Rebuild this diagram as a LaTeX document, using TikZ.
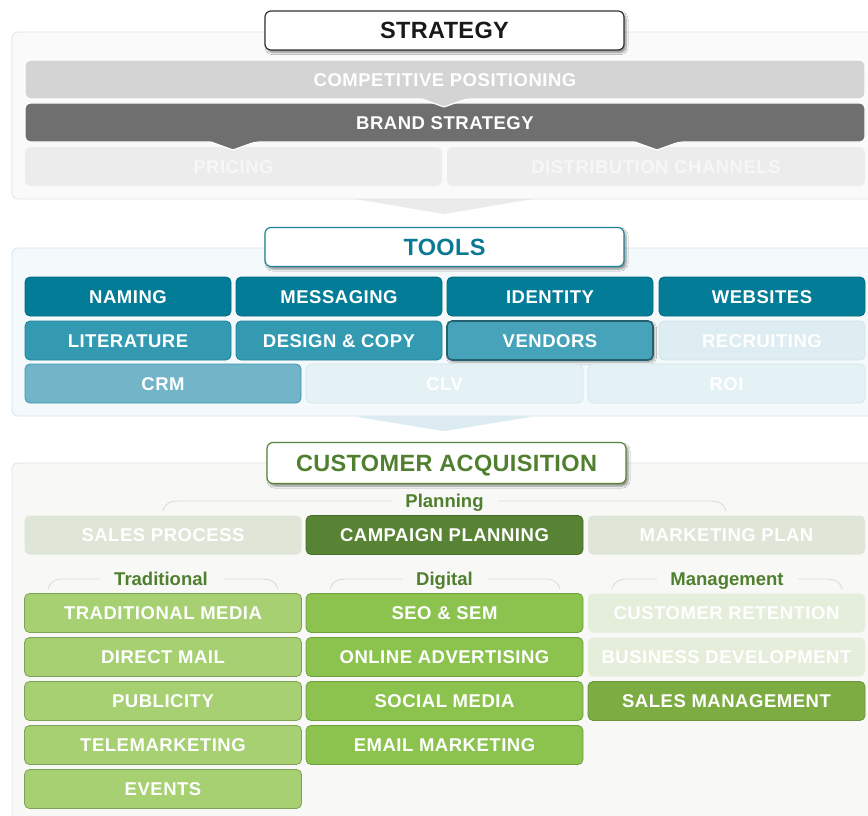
\documentclass[tikz,border=0pt]{standalone}
\usepackage{fontspec}
\setmainfont{Liberation Sans}
\newfontfamily\boxfam{Liberation Sans}[LetterSpace=2.8]
\newfontfamily\titlefam{Liberation Sans}[LetterSpace=1.5]
\usetikzlibrary{shadows.blur}
\definecolor{spanelfill}{HTML}{FAFAFA}
\definecolor{spanelline}{HTML}{E3E3E3}
\definecolor{compfill}{HTML}{D3D4D3}
\definecolor{brandfill}{HTML}{6E6F6E}
\definecolor{pricefill}{HTML}{ECECEC}
\definecolor{schev}{HTML}{EBEBEB}
\definecolor{tpanelfill}{HTML}{F4F9FB}
\definecolor{tpanelline}{HTML}{D3E7EE}
\definecolor{tdark}{HTML}{037C97}
\definecolor{tdarkline}{HTML}{026A82}
\definecolor{tmid}{HTML}{339AB2}
\definecolor{tmidline}{HTML}{1F8299}
\definecolor{tvend}{HTML}{46A3BA}
\definecolor{tvendline}{HTML}{24606F}
\definecolor{tlight}{HTML}{72B5C8}
\definecolor{tlightline}{HTML}{3C94AC}
\definecolor{tfade}{HTML}{DDEDF2}
\definecolor{tfadeline}{HTML}{D2E6EC}
\definecolor{tchev}{HTML}{DCECF2}
\definecolor{ttext}{HTML}{0A7A94}
\definecolor{cpanelfill}{HTML}{F8F8F6}
\definecolor{cpanelline}{HTML}{E3E6DF}
\definecolor{gfadeP}{HTML}{DFE6D8}
\definecolor{gdark}{HTML}{588335}
\definecolor{gdarkline}{HTML}{466E28}
\definecolor{gtrad}{HTML}{A6D071}
\definecolor{gtradline}{HTML}{7FA356}
\definecolor{gdig}{HTML}{8CC34F}
\definecolor{gdigline}{HTML}{6F9F3C}
\definecolor{gfadeM}{HTML}{E5EEDB}
\definecolor{gsales}{HTML}{7DAC43}
\definecolor{gsalesline}{HTML}{6A953A}
\definecolor{gtext}{HTML}{4F7F2F}
\definecolor{brk}{HTML}{DCDCDC}
\begin{document}
\begin{tikzpicture}[x=1pt,y=-1pt,
  boxfont/.style={font=\boxfam\bfseries\fontsize{18.5}{20}\selectfont, text height=13.3pt, text depth=0pt},
  box/.style={boxfont, rectangle, rounded corners=5pt, inner sep=0pt, text=white, minimum height=39pt, line width=0.8pt},
  titlebox/.style={rectangle, rounded corners=6pt, fill=white, line width=1.2pt, inner sep=0pt,
     font=\titlefam\bfseries\fontsize{23.5}{25}\selectfont, text height=16.8pt, text depth=0pt,
     minimum width=359pt, minimum height=39pt,
     blur shadow={shadow xshift=2pt, shadow yshift=-2.5pt, shadow blur steps=6, shadow opacity=45}},
  panel/.style={rounded corners=6pt, line width=0.8pt},
  seclabel/.style={font=\bfseries\fontsize{18.5}{20}\selectfont, text=gtext, anchor=base, inner sep=0pt},
  bracket/.style={draw=brk, line width=0.9pt},
  w2/.style={minimum width=206pt},
  w3/.style={minimum width=277pt}
]
\useasboundingbox (0,0) rectangle (868,816);
\clip (0,0) rectangle (868,816);
\fill[white] (0,0) rectangle (868,816);

% ---------- STRATEGY ----------
\fill[schev] (355,199) -- (533,199) -- (444,214) -- cycle;
\draw[panel, fill=spanelfill, draw=spanelline] (12,32) rectangle (890,199);
\node[box, fill=pricefill, text=white!97!black, minimum width=417pt] (pricing) at (233.5,166.5) {PRICING};
\node[box, fill=pricefill, text=white!97!black, minimum width=418pt] (distrib) at (656,166.5) {DISTRIBUTION CHANNELS};
\filldraw[fill=brandfill, draw=white, line width=1.2pt, rounded corners=5pt]
  (25,103) -- (865,103) -- (865,142) -- (679,142) [rounded corners=1pt] -- (657,150) -- (635,142)
  [rounded corners=5pt] -- (255,142) [rounded corners=1pt] -- (233,150) -- (211,142) [rounded corners=5pt] -- (25,142) -- cycle;
\node[boxfont, text=white, inner sep=0pt] (brand) at (445,123) {BRAND STRATEGY};
\filldraw[fill=compfill, draw=white, line width=1.2pt, rounded corners=5pt]
  (25,60) -- (865,60) -- (865,99) -- (466,99) [rounded corners=1pt] -- (444,107) -- (422,99) [rounded corners=5pt] -- (25,99) -- cycle;
\node[boxfont, text=white, inner sep=0pt] (comp) at (445,80) {COMPETITIVE POSITIONING};
\node[titlebox, draw=black!80, text=black!90] (strategy) at (444.5,30.5) {STRATEGY};

% ---------- TOOLS ----------
\fill[tchev] (357,416) -- (531,416) -- (444,431) -- cycle;
\draw[panel, fill=tpanelfill, draw=tpanelline] (12,248) rectangle (890,416);
\fill[tchev] (357,417) -- (531,417) -- (444,431) -- cycle;
\node[box, w2, fill=tdark, draw=tdarkline] (naming) at (128,296.5) {NAMING};
\node[box, w2, fill=tdark, draw=tdarkline] (messaging) at (339,296.5) {MESSAGING};
\node[box, w2, fill=tdark, draw=tdarkline] (identity) at (550,296.5) {IDENTITY};
\node[box, w2, fill=tdark, draw=tdarkline] (websites) at (762,296.5) {WEBSITES};
\node[box, w2, fill=tmid, draw=tmidline] (literature) at (128,340.5) {LITERATURE};
\node[box, w2, fill=tmid, draw=tmidline] (design) at (339,340.5) {DESIGN \& COPY};
\node[box, w2, fill=tvend, draw=tvendline, line width=1.6pt,
  blur shadow={shadow xshift=1.5pt, shadow yshift=-2pt, shadow blur steps=5, shadow opacity=40}] (vendors) at (550,340.5) {VENDORS};
\node[box, w2, fill=tfade, draw=tfadeline] (recruiting) at (762,340.5) {RECRUITING};
\node[box, minimum width=276pt, fill=tlight, draw=tlightline] (crm) at (163,383.5) {CRM};
\node[box, w3, fill=tfade!80!white, draw=tfadeline] (clv) at (444.5,383.5) {CLV};
\node[box, w3, fill=tfade!80!white, draw=tfadeline] (roi) at (726.5,383.5) {ROI};
\node[titlebox, draw=tmidline, text=ttext] (tools) at (444.5,247) {TOOLS};

% ---------- CUSTOMER ACQUISITION ----------
\draw[panel, fill=cpanelfill, draw=cpanelline] (12,463) rectangle (890,840);
\node[titlebox, draw=gdark, text=gtext, minimum height=41pt] (ca) at (446.5,463) {CUSTOMER ACQUISITION};

\node[seclabel] (planning) at (444.5,507) {Planning};
\draw[bracket] (163,511) .. controls (165,503) and (170,501) .. (180,501) -- (392,501);
\draw[bracket] (498,501) -- (709,501) .. controls (719,501) and (724,503) .. (726,511);
\node[box, w3, fill=gfadeP] (salesproc) at (163,535) {SALES PROCESS};
\node[box, w3, fill=gdark, draw=gdarkline] (campaign) at (444.5,535) {CAMPAIGN PLANNING};
\node[box, w3, fill=gfadeP] (mktplan) at (726.5,535) {MARKETING PLAN};

\node[seclabel] (traditional) at (161,585) {Traditional};
\draw[bracket] (48,589) .. controls (50,582) and (55,579) .. (63,579) -- (100,579);
\draw[bracket] (223,579) -- (263,579) .. controls (271,579) and (276,582) .. (278,589);
\node[seclabel] (digital) at (444.5,585) {Digital};
\draw[bracket] (330,589) .. controls (332,582) and (337,579) .. (345,579) -- (402,579);
\draw[bracket] (488,579) -- (545,579) .. controls (553,579) and (558,582) .. (560,589);
\node[seclabel] (management) at (727,585) {Management};
\draw[bracket] (612,589) .. controls (614,582) and (619,579) .. (627,579) -- (657,579);
\draw[bracket] (798,579) -- (827,579) .. controls (835,579) and (840,582) .. (842,589);

\node[box, w3, fill=gtrad, draw=gtradline] (tradmedia) at (163,613) {TRADITIONAL MEDIA};
\node[box, w3, fill=gtrad, draw=gtradline] (directmail) at (163,657) {DIRECT MAIL};
\node[box, w3, fill=gtrad, draw=gtradline] (publicity) at (163,701) {PUBLICITY};
\node[box, w3, fill=gtrad, draw=gtradline] (telemkt) at (163,745) {TELEMARKETING};
\node[box, w3, fill=gtrad, draw=gtradline] (events) at (163,789) {EVENTS};

\node[box, w3, fill=gdig, draw=gdigline] (seo) at (444.5,613) {SEO \& SEM};
\node[box, w3, fill=gdig, draw=gdigline] (onlineadv) at (444.5,657) {ONLINE ADVERTISING};
\node[box, w3, fill=gdig, draw=gdigline] (social) at (444.5,701) {SOCIAL MEDIA};
\node[box, w3, fill=gdig, draw=gdigline] (email) at (444.5,745) {EMAIL MARKETING};

\node[box, w3, fill=gfadeM] (retention) at (726.5,613) {CUSTOMER RETENTION};
\node[box, w3, fill=gfadeM] (bizdev) at (726.5,657) {BUSINESS DEVELOPMENT};
\node[box, w3, fill=gsales, draw=gsalesline] (salesmgmt) at (726.5,701) {SALES MANAGEMENT};
\end{tikzpicture}
\end{document}
